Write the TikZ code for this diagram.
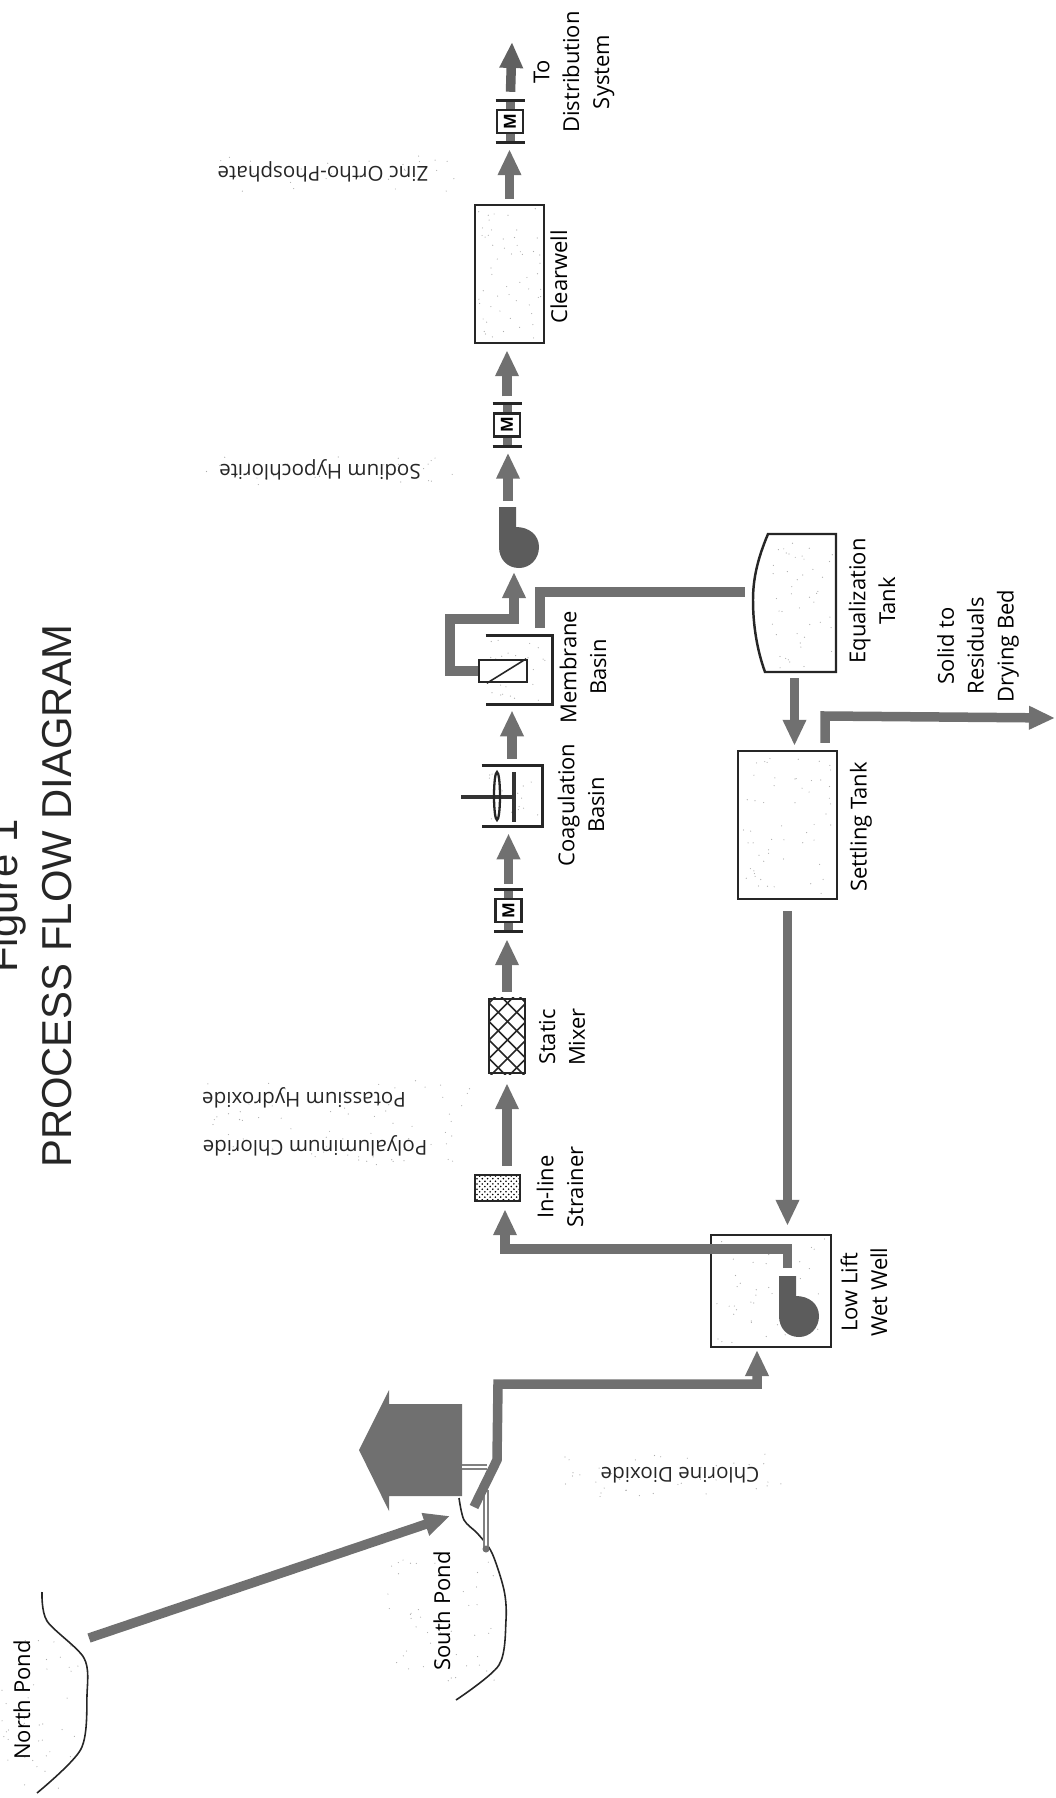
\documentclass[tikz,border=0pt]{standalone}
\usepackage{fontspec}
\setsansfont{Open Sans}
\newfontfamily\titlefont{Liberation Sans}
\usepackage{tikz}
\usetikzlibrary{%
  arrows.meta,
  calc,
  patterns}
\definecolor{pipegray}{gray}{0.44}
\definecolor{darkgray}{gray}{0.36}
\tikzset{
  %% Tanks and equipment
  tankbox/.style={
    rectangle, draw=black!85, line width=1.4pt,
    inner sep=0pt},
  ghostbox/.style={
    rectangle, inner sep=0pt},
  meterbox/.style={
    rectangle, draw=black!85, line width=1.4pt, fill=white,
    minimum width=0.52cm, minimum height=0.46cm, inner sep=0pt,
    font=\fontsize{9.5}{9.5}\selectfont\sffamily\bfseries},
  %% Texts
  lbl/.style={
    rotate=90, align=center, inner sep=0pt,
    font=\fontsize{12.5}{17}\selectfont\sffamily},
  chemlbl/.style={
    rotate=180, inner sep=0pt, text=black!85,
    font=\fontsize{11.7}{13}\selectfont\sffamily},
  titlelbl/.style={
    rotate=90, inner sep=0pt, text=black!85,
    font=\fontsize{23.8}{28}\selectfont\titlefont},
  %% Pipes
  flow/.style={
    -{Triangle[length=0.52cm, width=0.44cm]},
    line width=0.19cm, pipegray},
  pipeline/.style={line width=0.19cm, pipegray},
  stub/.style={line width=0.18cm, pipegray},
  flange/.style={line width=1.6pt, black!85},
  thinpipe/.style={line width=1pt, double=white, double distance=1.2pt, gray},
  pondline/.style={line width=0.9pt, black!85},
  speck/.style={fill=gray!65},
  pumpico/.pic={
    \fill[darkgray] (0,0) -- (17,0) -- (17,20)
      .. controls (30,20) and (40,28) .. (40,40)
      .. controls (40,52) and (31,61) .. (20,61)
      .. controls (8,61) and (0,52) .. (0,40) -- cycle;
  },
}
\newcommand{\speckle}[5]{%
  \foreach \n in {1,...,#5}{
    \pgfmathsetmacro\sx{#1+rnd*(#3-#1)}
    \pgfmathsetmacro\sy{#2+rnd*(#4-#2)}
    \fill[speck] (\sx,\sy) circle (0.6);
  }}
\begin{document}
\begin{tikzpicture}[x=0.02cm, y=-0.02cm]
  \useasboundingbox (0,0) rectangle (1055,1798);
  \pgfmathsetseed{4242}

  %% Speckle of the scan
  \speckle{2}{1640}{78}{1790}{45}
  \speckle{385}{1560}{495}{1690}{45}
  \speckle{558}{1454}{784}{1497}{40}
  \speckle{195}{1080}{470}{1165}{70}
  \speckle{205}{455}{460}{485}{25}
  \speckle{205}{155}{455}{195}{25}
  \speckle{478}{208}{541}{340}{55}
  \speckle{742}{755}{834}{896}{55}
  \speckle{714}{1238}{828}{1344}{40}
  \speckle{770}{538}{833}{669}{45}
  \speckle{490}{640}{549}{701}{30}
  \speckle{486}{770}{538}{823}{20}

  %% Title
  \node[titlelbl, anchor=base] (figno) at (17,896) {Figure 1};
  \node[titlelbl] (title) at (57,896) {PROCESS FLOW DIAGRAM};

  %% Ponds
  \draw[pondline] plot[smooth] coordinates
    {(42,1592) (47,1621) (84,1658) (87,1695) (81,1749) (37,1793)};
  \draw[pondline] plot[smooth] coordinates
    {(459,1498) (464,1520) (478,1534) (492,1553) (504,1590) (506,1620) (499,1665) (456,1700)};
  \node[lbl] (lblnorth) at (22,1700) {North Pond};
  \node[lbl] (lblsouth) at (442,1611) {South Pond};

  %% Pump house
  \fill[pipegray] (462,1404) -- (389,1404) -- (389,1390) -- (359,1450)
    -- (389,1511) -- (389,1496) -- (462,1496) -- cycle;
  \coordinate (hsout) at (462,1467);
  \coordinate (hsin) at (487,1467);
  \coordinate (intaketop) at (486,1490);
  \coordinate (intakeend) at (486,1549);
  \draw[thinpipe] (hsout) -- (hsin);
  \draw[thinpipe] (intaketop) -- (intakeend);
  \fill[pipegray] (intakeend) circle (3.5);

  %% Main line equipment
  \node[tankbox, fill=gray!65, pattern=crosshatch dots, minimum width=0.90cm,
    minimum height=0.52cm] (strainer) at (497.5,1188) {};
  \node[tankbox, minimum width=0.72cm, minimum height=1.48cm] (mixer) at (507,1036) {};
  \begin{scope}
    \clip (mixer.south west) rectangle (mixer.north east);
    \foreach \k in {0,...,5}{
      \draw[line width=0.9pt, black!85] (489,966+18.5*\k) -- ++(36,36);
      \draw[line width=0.9pt, black!85] (489,1003+18.5*\k) -- ++(36,-36);
    }
  \end{scope}
  \node[meterbox] (mtra) at (508.5,910.5) {\rotatebox{90}{M}};
  \node[meterbox] (mtrb) at (507,425) {\rotatebox{90}{M}};
  \node[meterbox] (mtrc) at (510,121.5) {\rotatebox{90}{M}};
  \foreach \m in {mtra,mtrb,mtrc}{
    \draw[stub] (\m.north) -- ++(0,-8.5);
    \draw[stub] (\m.south) -- ++(0,8.5);
    \draw[flange] ($(\m.north)+(-14.5,-8.5)$) -- ++(29,0);
    \draw[flange] ($(\m.south)+(-14.5,8.5)$) -- ++(29,0);
  }

  %% Coagulation basin, open on the left
  \node[ghostbox, minimum width=1.20cm, minimum height=1.20cm] (coag) at (512,796) {};
  \draw[tankbox] (coag.north west) -- (coag.north east)
    -- (coag.south east) -- (coag.south west);
  \draw[line width=2.4pt, black!80] (461,797) -- (515,797);
  \draw[line width=2.4pt, black!80] (514,772) -- (514,822);
  \draw[line width=1.3pt, black!85] (497,796) ellipse (3 and 24);

  %% Membrane basin, open on the left
  \node[ghostbox, minimum width=1.32cm, minimum height=1.36cm] (memb) at (519,670) {};
  \draw[tankbox] (memb.north west) -- (memb.north east)
    -- (memb.south east) -- (memb.south west);
  \node[tankbox, fill=white, minimum width=0.96cm, minimum height=0.44cm] (filt) at (503,671) {};
  \draw[line width=0.9pt, black!85] ([xshift=0.18cm]filt.south west)
    -- ([xshift=-0.04cm]filt.north east);

  \node[tankbox, minimum width=1.38cm, minimum height=2.76cm] (clear) at (509.5,274) {};
  \node[tankbox, minimum width=1.98cm, minimum height=2.96cm] (setl) at (787.5,825) {};
  \node[tankbox, minimum width=2.40cm, minimum height=2.24cm] (well) at (771,1291) {};

  %% Equalization tank
  \node[ghostbox, minimum width=1.66cm, minimum height=2.76cm] (eqtk) at (794.5,603) {};
  \draw[tankbox] (836,534) -- (768,534) .. controls (757,560) and (753,580) .. (753,600)
    .. controls (753,625) and (757,650) .. (765,672) -- (836,672) -- cycle;

  %% Pumps
  \pic at (499,507) {pumpico};
  \pic at (779,1276) {pumpico};
  \coordinate (pumpb) at (508,507);
  \coordinate (pumpbot) at (514,568);
  \coordinate (pumpa) at (787.5,1276);

  %% Free ends and bends
  \coordinate (npnd) at (89,1638);
  \coordinate (spnd) at (450,1516);
  \coordinate (pipestart) at (474,1507);
  \coordinate (pipebenda) at (497,1460);
  \coordinate (pipebendb) at (498,1384);
  \coordinate (wellin) at (757,1347);
  \coordinate (wellbend) at (505,1249);
  \coordinate (bendl) at (450,619);
  \coordinate (eqbend) at (540,592);
  \coordinate (solidbend) at (825,716);
  \coordinate (solidend) at (1055,718);
  \coordinate (distout) at (512,42);

  %% Connections
  \draw[flow] (npnd) -- (spnd);
  \draw[flow, shorten >=0.06cm] (pipestart) -- (pipebenda) -- (pipebendb) -| (wellin);
  \draw[flow, shorten <=0.16cm, shorten >=0.14cm] (pumpa) |- (wellbend) -- (wellbend |- strainer.south);
  \draw[flow, shorten <=0.16cm, shorten >=0.18cm] (strainer.north -| mixer) -- (mixer.south);
  \draw[flow, shorten <=0.12cm, shorten >=0.32cm] (mixer.north) -- (mixer.north |- mtra.south);
  \draw[flow, shorten <=0.28cm, shorten >=0.14cm] (mtra.north) -- (mtra.north |- coag.south);
  \draw[flow, shorten <=0.14cm, shorten >=0.12cm] (coag.north) -- (coag.north |- memb.south);
  \draw[flow, shorten >=0.08cm] (filt.west) -| (bendl) -| (pumpbot);
  \draw[pipeline, shorten <=0.16cm, shorten >=0.16cm] (eqbend -| eqtk.west) -- (eqbend) -- (eqbend |- memb.north);
  \draw[flow, shorten <=0.12cm, shorten >=0.30cm] (pumpb) -- (pumpb |- mtrb.south);
  \draw[flow, shorten <=0.32cm, shorten >=0.12cm] (mtrb.north) -- (mtrb.north |- clear.south);
  \draw[flow, shorten <=0.10cm, shorten >=0.30cm] (clear.north) -- (clear.north |- mtrc.south);
  \draw[flow, gray!75!black, shorten <=0.34cm] (mtrc.north) -- (distout);
  \draw[flow, shorten <=0.12cm, shorten >=0.08cm] (eqtk.south) -- (eqtk.south |- setl.north);
  \draw[flow, shorten <=0.22cm, shorten >=0.16cm] (setl.south) -- (setl.south |- well.north);
  \draw[flow, shorten <=0.14cm] (solidbend |- setl.north) -- (solidbend) -- (solidend);

  %% Equipment labels
  \node[lbl] (lblstrainer) at (560,1187) {In-line\\Strainer};
  \node[lbl] (lblmixer) at (562,1037) {Static\\Mixer};
  \node[lbl] (lblcoag) at (581,805) {Coagulation\\Basin};
  \node[lbl] (lblmemb) at (583,667) {Membrane\\Basin};
  \node[lbl] (lblclear) at (559,277) {Clearwell};
  \node[lbl] (lbldist) at (574,72) {To\\Distribution\\System};
  \node[lbl] (lblsettle) at (861,827) {Settling Tank};
  \node[lbl] (lblequal) at (872,601) {Equalization\\Tank};
  \node[lbl] (lblsolid) at (978,646) {Solid to\\Residuals\\Drying Bed};
  \node[lbl] (lblwell) at (864,1292) {Low Lift\\Wet Well};

  %% Chemical feeds
  \node[chemlbl] (chemzinc) at (323,172) {Zinc Ortho-Phosphate};
  \node[chemlbl] (chemsod) at (320,470) {Sodium Hypochlorite};
  \node[chemlbl] (chempot) at (304,1098) {Potassium Hydroxide};
  \node[chemlbl] (chempoly) at (315,1146) {Polyaluminum Chloride};
  \node[chemlbl] (chemclo) at (680,1475) {Chlorine Dioxide};

\end{tikzpicture}
\end{document}
